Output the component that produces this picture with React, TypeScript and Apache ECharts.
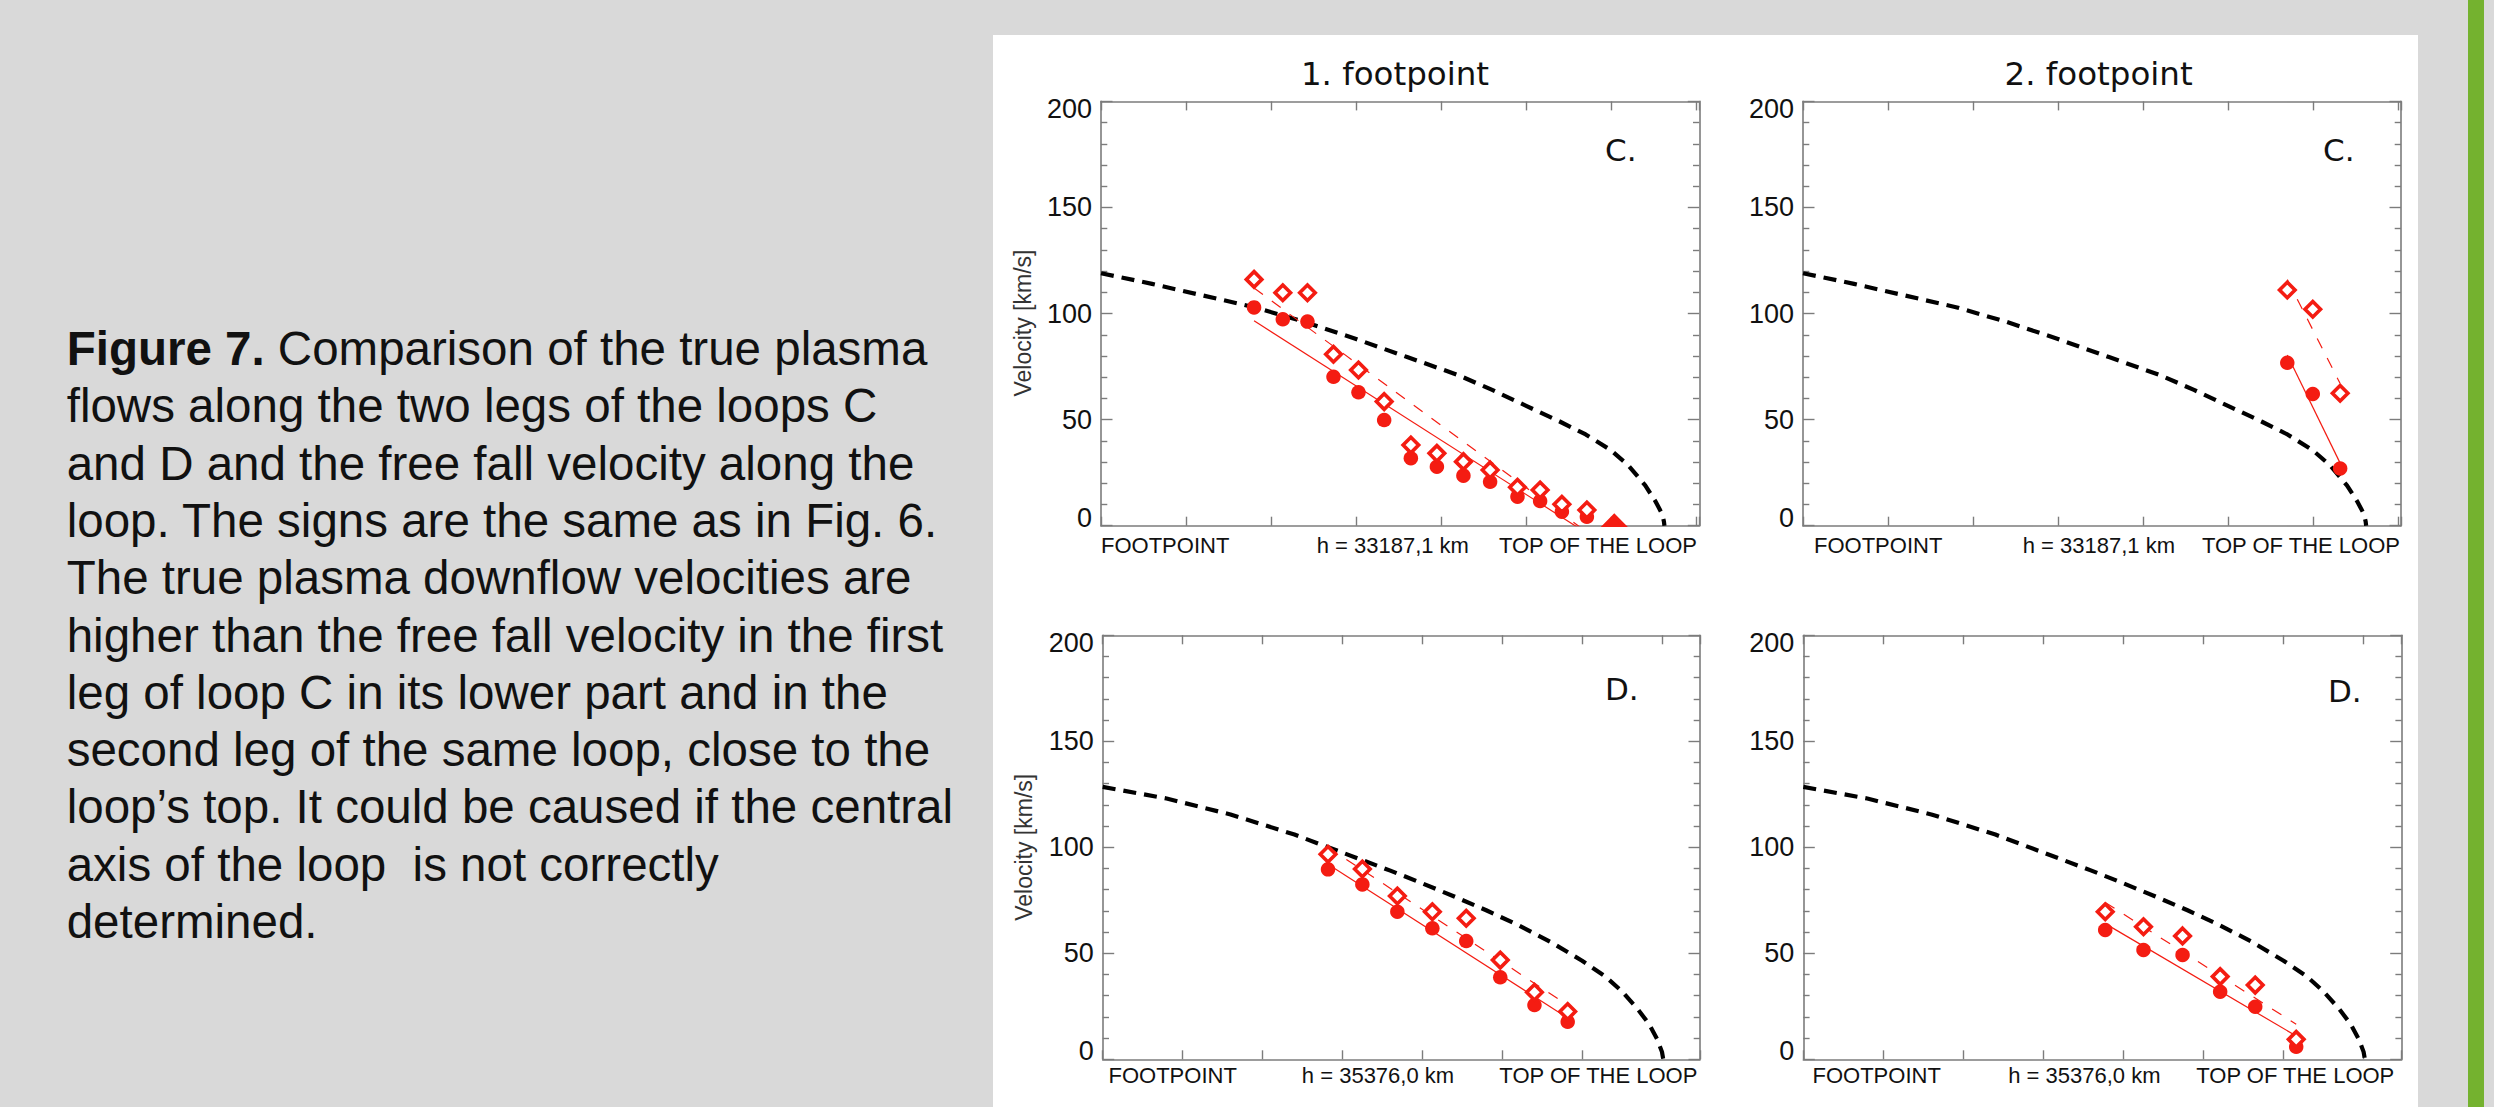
import React, { useEffect, useRef } from 'react';
import * as echarts from 'echarts';

// ---------- text ----------
const panelTitles = ['1. footpoint', '2. footpoint'];
const loopLetters = ['C.', 'D.'];
const heightLabels = ['h = 33187,1 km', 'h = 35376,0 km'];
const footLabel = 'FOOTPOINT';
const topLabel = 'TOP OF THE LOOP';
const yAxisName = 'Velocity [km/s]';
const captionLead = 'Figure 7.';
const captionLines = [
  ' Comparison of the true plasma',
  'flows along the two legs of the loops C',
  'and D and the free fall velocity along the',
  'loop. The signs are the same as in Fig. 6.',
  'The true plasma downflow velocities are',
  'higher than the free fall velocity in the first',
  'leg of loop C in its lower part and in the',
  'second leg of the same loop, close to the',
  'loop\u2019s top. It could be caused if the central',
  'axis of the loop  is not correctly',
  'determined.',
];

// ---------- axes ----------
const yMin = 0;
const yMax = 200;
const yStep = 50;
const xStep = 5000;
const xMaxC = 35180;
const xMaxD = 37380;

// ---------- loop C, 1. footpoint ----------
const c1X = [9000, 10690, 12140, 13670, 15140, 16650, 18220, 19750, 21310, 22880, 24490, 25820, 27100, 28570, 30180];
const c1Diamond = [116.1, 109.8, 109.8, 80.8, 73.4, 58.5, 38.0, 34.1, 30.2, 26.3, 18.1, 16.8, 10.1, 7.4, 0];
const c1Circle = [102.9, 97.3, 96.2, 70.2, 62.9, 49.8, 31.8, 27.8, 23.6, 20.7, 13.7, 11.6, 6.6, 4.2, 0];
const c1FitSolid = [[9000, 96.6], [30180, -11.8]];
const c1FitDashed = [[9000, 112], [30180, -12.5]];

// ---------- loop C, 2. footpoint ----------
const c2X = [28490, 29990, 31600];
const c2Diamond = [111.1, 102.0, 62.4];
const c2Circle = [76.8, 62.1, 27.0];
const c2FitSolid = [[28490, 80.5], [31600, 29.5]];
const c2FitDashed = [[28490, 116], [31600, 67]];

// ---------- loop D, 1. footpoint ----------
const d1X = [14100, 16250, 18440, 20630, 22750, 24880, 27020, 29100];
const d1Diamond = [96.7, 89.8, 77.0, 69.6, 66.5, 46.8, 31.6, 22.5];
const d1Circle = [89.6, 82.5, 69.6, 61.8, 55.8, 38.7, 25.6, 17.7];
const d1FitSolid = [[14100, 92], [29100, 19.5]];
const d1FitDashed = [[14100, 100], [29100, 25.5]];

// ---------- loop D, 2. footpoint ----------
const d2X = [18860, 21250, 23690, 26040, 28230, 30790];
const d2Diamond = [69.6, 62.5, 58.2, 39.0, 35.0, 9.4];
const d2Circle = [61.0, 51.6, 49.2, 31.9, 24.8, 5.9];
const d2FitSolid = [[18860, 64], [30790, 11]];
const d2FitDashed = [[18860, 74], [30790, 16.5]];

// ---------- free fall velocity ----------
const freeFallC = [
  [0, 119], [3000, 114], [6000, 108.5], [9000, 103], [12000, 96], [15000, 88], [18000, 79.5],
  [21000, 71], [23000, 64], [25000, 56.5], [27000, 49], [28500, 43], [30000, 35.5],
  [31000, 28.5], [32000, 19], [32600, 11.5], [33000, 5.5], [33100, 2], [33130, 0],
];
const freeFallD = [
  [0, 128.5], [4000, 123], [8000, 115.5], [12000, 106], [15000, 97.5], [18000, 89], [20000, 83],
  [22000, 76.8], [24000, 70.3], [26000, 63.3], [28000, 55.5], [30000, 46.5], [31500, 38.8],
  [32500, 32], [33500, 23.5], [34200, 16.5], [34700, 9.5], [35000, 3.5], [35080, 0],
];

// ---------- styles ----------
const RED = '#f41c12';
const AX = '#7c7c7c';
const SANS = "'Liberation Sans', Arial, Helvetica, sans-serif";
const DEJAVU = "'DejaVu Sans', 'Liberation Sans', sans-serif";

const panels = [
  {
    grid: { left: 1101, top: 101.4, width: 598.3, height: 424.3 }, xMax: xMaxC,
    xs: c1X, diamonds: c1Diamond, circles: c1Circle, solid: c1FitSolid, dashed: c1FitDashed, curve: freeFallC,
    showName: true, namePad: 19, letter: loopLetters[0], letterX: 1605, letterY: 149.7,
    hLabel: heightLabels[0], hX: 1392.8, footX: 1101, topX: 1697, textY: 545.4,
    title: panelTitles[0], titleX: 1395,
  },
  {
    grid: { left: 1803, top: 101.4, width: 598, height: 424.3 }, xMax: xMaxC,
    xs: c2X, diamonds: c2Diamond, circles: c2Circle, solid: c2FitSolid, dashed: c2FitDashed, curve: freeFallC,
    showName: false, namePad: 0, letter: loopLetters[0], letterX: 2323, letterY: 149.7,
    hLabel: heightLabels[0], hX: 2098.9, footX: 1814, topX: 2400, textY: 545.4,
    title: panelTitles[1], titleX: 2098.6,
  },
  {
    grid: { left: 1102.7, top: 635.3, width: 597.3, height: 424 }, xMax: xMaxD,
    xs: d1X, diamonds: d1Diamond, circles: d1Circle, solid: d1FitSolid, dashed: d1FitDashed, curve: freeFallD,
    showName: true, namePad: 0, letter: loopLetters[1], letterX: 1605, letterY: 689.3,
    hLabel: heightLabels[1], hX: 1378, footX: 1108.5, topX: 1697.4, textY: 1075.7,
    title: '', titleX: 0,
  },
  {
    grid: { left: 1803.3, top: 635.3, width: 598.4, height: 424 }, xMax: xMaxD,
    xs: d2X, diamonds: d2Diamond, circles: d2Circle, solid: d2FitSolid, dashed: d2FitDashed, curve: freeFallD,
    showName: false, namePad: 0, letter: loopLetters[1], letterX: 2328, letterY: 691,
    hLabel: heightLabels[1], hX: 2084.4, footX: 1812.5, topX: 2394.3, textY: 1075.7,
    title: '', titleX: 0,
  },
];

function pointData(xs: number[], ys: number[], kind: 'diamond' | 'circle') {
  return xs.map((x, i) => {
    const v = [x, ys[i]];
    if (ys[i] <= 0) {
      // clipped at the lower frame: only the upper half is visible
      return kind === 'diamond'
        ? { value: v, symbol: 'path://M0,10L10,0L20,10Z', symbolSize: [19, 9.5], symbolOffset: [0, -4.75], itemStyle: { color: RED, borderColor: RED } }
        : { value: v, symbol: 'path://M0,10A10,10 0 0 1 20,10Z', symbolSize: [15, 7.5], symbolOffset: [0, -3.75] };
    }
    return v;
  });
}

function txt(text: string, x: number, y: number, size: number, family: string, align: string) {
  return {
    type: 'text', x, y, z: 100, silent: true,
    style: {
      text, fontSize: size, fontFamily: family, fill: '#111',
      align, textAlign: align, verticalAlign: 'middle', textVerticalAlign: 'middle',
    },
  };
}

function buildOption() {
  const grid: any[] = [];
  const xAxis: any[] = [];
  const yAxis: any[] = [];
  const series: any[] = [];
  const graphic: any[] = [];

  graphic.push({ type: 'rect', z: -100, silent: true, shape: { x: 993, y: 35, width: 1425, height: 1072 }, style: { fill: '#ffffff' } });
  graphic.push({ type: 'rect', z: -100, silent: true, shape: { x: 2468, y: 0, width: 16, height: 1107 }, style: { fill: '#74b22f' } });

  const capSize = 47.5;
  captionLines.forEach((line, k) => {
    const y = 365 + 57.3 * k - 0.3465 * capSize;
    const text = k === 0 ? `{b|${captionLead}}{r|${line}}` : line;
    graphic.push({
      type: 'text', x: 66.7, y, z: 100, silent: true,
      style: {
        text, fontSize: capSize, fontFamily: SANS, fill: '#111',
        align: 'left', textAlign: 'left', verticalAlign: 'middle', textVerticalAlign: 'middle',
        rich: {
          b: { fontSize: capSize, fontFamily: SANS, fontWeight: 'bold', fill: '#111', color: '#111' },
          r: { fontSize: capSize, fontFamily: SANS, fontWeight: 'normal', fill: '#111', color: '#111' },
        },
      },
    });
  });

  const lineStyle = { color: AX, width: 1.6 };
  const tickStyle = { color: AX, width: 1.4 };

  panels.forEach((p, i) => {
    grid.push({ ...p.grid, containLabel: false, outerBoundsMode: 'none' });
    const xBase = {
      type: 'value', gridIndex: i, min: 0, max: p.xMax, interval: xStep,
      splitLine: { show: false }, axisLabel: { show: false },
      axisLine: { show: true, onZero: false, lineStyle },
      axisTick: { show: true, inside: true, length: 9, lineStyle: tickStyle },
    };
    xAxis.push({ ...xBase, position: 'bottom' });
    xAxis.push({ ...xBase, position: 'top' });

    const yBase = {
      type: 'value', gridIndex: i, min: yMin, max: yMax, interval: yStep,
      splitLine: { show: false }, minorSplitLine: { show: false },
      axisLine: { show: true, onZero: false, lineStyle },
      axisTick: { show: true, inside: true, length: 11.5, lineStyle: tickStyle },
      minorTick: { show: true, splitNumber: 5, length: 6.3, lineStyle: tickStyle },
    };
    const lab = { fontSize: 27, fontFamily: SANS, color: '#111' };
    yAxis.push({
      ...yBase, position: 'left',
      axisLabel: {
        show: true, margin: 9, ...lab,
        formatter: (v: number) => (v === yMax ? `{hi|${v}}` : v === yMin ? `{lo|${v}}` : `{n|${v}}`),
        rich: {
          hi: { ...lab, padding: [16, 0, 0, 0] },
          lo: { ...lab, padding: [0, 0, 16, 0] },
          n: { ...lab },
        },
      },
      name: p.showName ? yAxisName : '',
      nameLocation: 'middle', nameGap: 67,
      nameTextStyle: { fontSize: 23, fontFamily: SANS, color: '#333', padding: [0, p.namePad, 0, 0] },
    });
    yAxis.push({ ...yBase, position: 'right', axisLabel: { show: false } });

    const xi = 2 * i;
    const yi = 2 * i;
    series.push({
      type: 'line', xAxisIndex: xi, yAxisIndex: yi, data: p.curve, symbol: 'none', showSymbol: false,
      smooth: false,
      lineStyle: { color: '#000', width: 4.2, type: [13, 8] }, z: 1, clip: true, silent: true,
    });
    series.push({
      type: 'line', xAxisIndex: xi, yAxisIndex: yi, data: p.solid, symbol: 'none', showSymbol: false,
      lineStyle: { color: RED, width: 1.2, type: 'solid' }, z: 2, clip: true, silent: true,
    });
    series.push({
      type: 'line', xAxisIndex: xi, yAxisIndex: yi, data: p.dashed, symbol: 'none', showSymbol: false,
      lineStyle: { color: RED, width: 1.2, type: [11, 11] }, z: 2, clip: true, silent: true,
    });
    series.push({
      type: 'scatter', xAxisIndex: xi, yAxisIndex: yi, data: pointData(p.xs, p.circles, 'circle'),
      symbol: 'circle', symbolSize: 14.5, itemStyle: { color: RED, opacity: 1 }, z: 3, clip: true, silent: true,
    });
    series.push({
      type: 'scatter', xAxisIndex: xi, yAxisIndex: yi, data: pointData(p.xs, p.diamonds, 'diamond'),
      symbol: 'diamond', symbolSize: [15.5, 15.5],
      itemStyle: { color: '#ffffff', borderColor: RED, borderWidth: 3.6, opacity: 1 }, z: 4, clip: true, silent: true,
    });

    if (p.title) graphic.push(txt(p.title, p.titleX, 73.8, 32.5, DEJAVU, 'center'));
    graphic.push(txt(p.letter, p.letterX, p.letterY, 31, DEJAVU, 'left'));
    graphic.push(txt(footLabel, p.footX, p.textY, 22, SANS, 'left'));
    graphic.push(txt(p.hLabel, p.hX, p.textY, 22, SANS, 'center'));
    graphic.push(txt(topLabel, p.topX, p.textY, 22, SANS, 'right'));
  });

  return {
    animation: false,
    backgroundColor: '#d9d9d9',
    grid, xAxis, yAxis, series, graphic,
  };
}

export default function App() {
  const ref = useRef<HTMLDivElement>(null);
  useEffect(() => {
    if (!ref.current) return;
    const chart = echarts.init(ref.current, undefined, { renderer: 'svg', width: 2494, height: 1107 });
    chart.setOption(buildOption() as any);
    return () => chart.dispose();
  }, []);
  return <div ref={ref} style={{ position: 'absolute', left: 0, top: 0, width: 2494, height: 1107 }} />;
}
